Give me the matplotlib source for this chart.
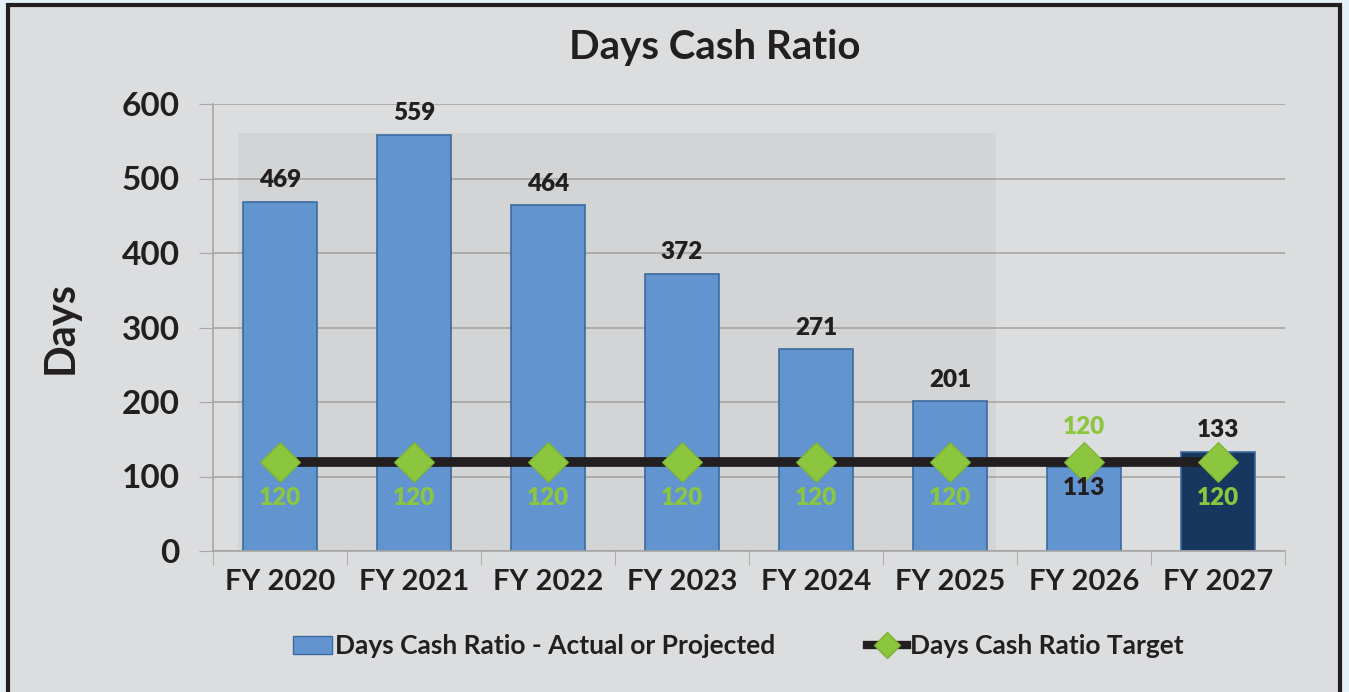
import matplotlib
matplotlib.use("Agg")
import matplotlib.pyplot as plt
from matplotlib.patches import Rectangle
from matplotlib.lines import Line2D
import numpy as np

categories = ["FY 2020", "FY 2021", "FY 2022", "FY 2023", "FY 2024", "FY 2025", "FY 2026", "FY 2027"]
actual = [469, 559, 464, 372, 271, 201, 113, 133]
target = [120, 120, 120, 120, 120, 120, 120, 120]
yticks = [0, 100, 200, 300, 400, 500, 600]

plt.rcParams['font.family'] = ['Lato', 'DejaVu Sans']
plt.rcParams['font.weight'] = 'bold'

BG = '#DCDDDF'
BAR = '#6295D0'
BAR_DARK = '#17375E'
GREEN = '#8CC63F'
INK = '#231F20'

fig = plt.figure(figsize=(13.49, 6.92), dpi=100)
fig.patch.set_facecolor('#E4F1F8')
# framed gray panel
fig.patches.append(Rectangle((8 / 1349, -0.01), 1332 / 1349, 1 - 5 / 692 + 0.01,
                             transform=fig.transFigure, facecolor=BG,
                             edgecolor=INK, linewidth=3, zorder=-10))

ax = fig.add_axes([213 / 1349, 1 - 551 / 692, (1285 - 213) / 1349, (551 - 104) / 692])
ax.set_facecolor('none')
x = np.arange(len(categories))

# faint shaded region behind the earlier bars
ax.add_patch(Rectangle((-0.31, 0), 5.65, 561, facecolor='#D3D4D6', edgecolor='none', zorder=0))

colors = [BAR] * 7 + [BAR_DARK]
ax.bar(x, actual, width=0.55, color=colors, edgecolor='#3C6A9E', linewidth=1.2, zorder=2)

ax.plot(x, target, color=INK, linewidth=7, solid_capstyle='butt', zorder=3)
ax.plot(x, target, linestyle='none', marker='D', markersize=20, markerfacecolor=GREEN,
        markeredgecolor='#7AB032', markeredgewidth=0.8, zorder=4)

for i, v in enumerate(actual):
    if i == 6:
        ax.text(i, v - 14, str(v), ha='center', va='top', fontsize=17.5, fontweight='heavy',
                color=INK, zorder=5)
    else:
        ax.text(i, v + 14, str(v), ha='center', va='bottom', fontsize=17.5, fontweight='heavy',
                color=INK, zorder=5)
for i, v in enumerate(target):
    if i == 6:
        ax.text(i, v + 32, str(v), ha='center', va='bottom', fontsize=17.5, fontweight='heavy',
                color=GREEN, zorder=5)
    else:
        ax.text(i, v - 34, str(v), ha='center', va='top', fontsize=17.5, fontweight='heavy',
                color=GREEN, zorder=5)

ax.set_xlim(-0.5, len(categories) - 0.5)
ax.set_ylim(0, 600)
ax.set_yticks(yticks)
ax.set_yticklabels([str(t) for t in yticks], fontsize=24, fontweight='bold', color=INK)
ax.set_xticks(x)
ax.set_xticklabels(categories, fontsize=21, fontweight='bold', color=INK)
ax.set_xticks(np.arange(-0.5, len(categories)), minor=True)
ax.tick_params(axis='x', which='major', length=0, pad=13)
ax.tick_params(axis='x', which='minor', length=10, color='#A6A6A6')
ax.tick_params(axis='y', length=10, color='#A6A6A6', pad=14)
ax.grid(axis='y', color='#A6A6A6', linewidth=1.2, zorder=1)
ax.set_axisbelow(True)
for s in ['top', 'right']:
    ax.spines[s].set_visible(False)
ax.spines['left'].set_color('#A6A6A6')
ax.spines['bottom'].set_color('#A6A6A6')
ax.spines['left'].set_linewidth(1.2)
ax.spines['bottom'].set_linewidth(1.2)

ax.set_ylabel('Days', fontsize=30, fontweight='bold', color=INK, labelpad=30)
fig.text(715 / 1349, 1 - 48 / 692, 'Days Cash Ratio', ha='center', va='center',
         fontsize=29, fontweight='bold', color=INK)

handles = [Rectangle((0, 0), 1, 1, facecolor=BAR, edgecolor='#3C6A9E'),
           Line2D([0], [0], color=INK, linewidth=6, marker='D', markersize=13,
                  markerfacecolor=GREEN, markeredgecolor='#7AB032')]
fig.legend(handles, ['Days Cash Ratio - Actual or Projected', 'Days Cash Ratio Target'],
           loc='center', bbox_to_anchor=(738 / 1349, 1 - 646 / 692), ncol=2, frameon=False,
           handlelength=1.5, handletextpad=0.1, columnspacing=3.5,
           prop={'weight': 'bold', 'size': 19}, labelcolor=INK)

fig.savefig('out.png', dpi=100, facecolor=fig.get_facecolor())
